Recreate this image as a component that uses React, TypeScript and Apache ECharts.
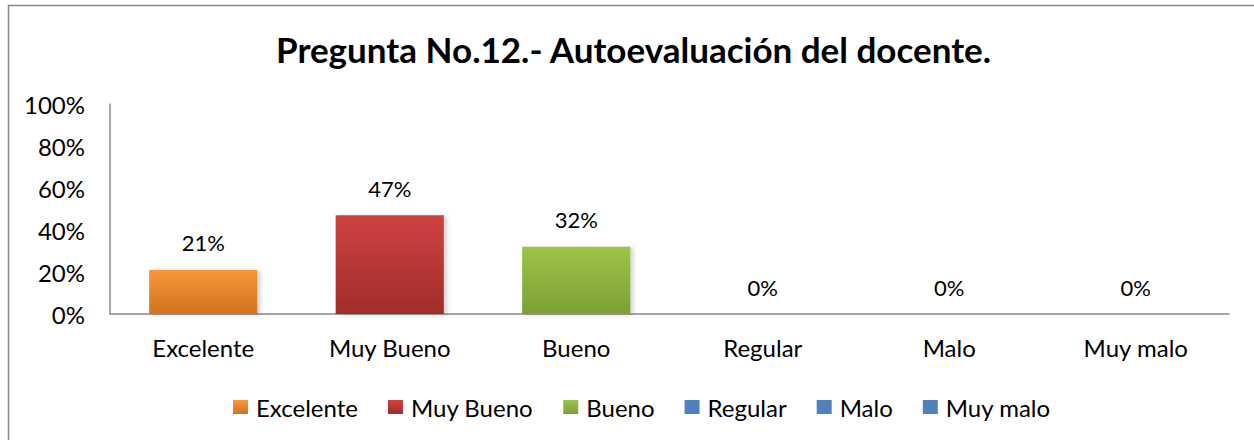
import React, { useEffect, useRef } from "react";
import * as echarts from "echarts";

const categories = ["Excelente", "Muy Bueno", "Bueno", "Regular", "Malo", "Muy malo"];
const values = [21, 47, 32, 0, 0, 0];
const yTicks = [0, 20, 40, 60, 80, 100];
const titleText = "Pregunta No.12.- Autoevaluación del docente.";

const FONT = "Lato";

const grad = (top: string, bottom: string) =>
  new echarts.graphic.LinearGradient(0, 0, 0, 1, [
    { offset: 0, color: top },
    { offset: 1, color: bottom },
  ]);

const colorsTop = ["#F9973A", "#CF4240", "#9DC446", "#4F81BD", "#4F81BD", "#4F81BD"];
const colorsBottom = ["#D2721F", "#A12C2B", "#7C9F37", "#4F81BD", "#4F81BD", "#4F81BD"];

export default function App() {
  const ref = useRef<HTMLDivElement>(null);
  useEffect(() => {
    if (!ref.current) return;
    const chart = echarts.init(ref.current, null, { renderer: "svg" });
    const series = categories.map((name, i) => ({
      name,
      type: "bar",
      stack: "all",
      barWidth: "58%",
      data: categories.map((_, j) => (j === i ? values[i] : null)),
      itemStyle: {
        color: grad(colorsTop[i], colorsBottom[i]),
        shadowColor: "rgba(0,0,0,0.18)",
        shadowBlur: 4,
        shadowOffsetX: 3,
        shadowOffsetY: 1,
      },
      label: {
        show: true,
        position: "top",
        distance: 16,
        formatter: (p: any) => `${p.value}%`,
        color: "#000",
        fontFamily: FONT,
        fontSize: 22,
      },
    }));
    chart.setOption({
      animation: false,
      title: {
        text: titleText,
        left: 271,
        top: 26,
        textStyle: { fontFamily: FONT, fontSize: 35, fontWeight: "bold", color: "#000" },
      },
      legend: {
        top: 390,
        left: 228,
        itemWidth: 15,
        itemHeight: 14,
        itemGap: 30,
        icon: "rect",
        data: categories.map((name, i) => ({
          name,
          itemStyle: { color: grad(colorsTop[i], colorsBottom[i]) },
        })),
        textStyle: { fontFamily: FONT, fontSize: 24, color: "#000", padding: [0, 0, 0, 3] },
      },
      grid: { left: 110, right: 25, top: 104, bottom: 126 },
      xAxis: {
        type: "category",
        data: categories,
        axisLine: { lineStyle: { color: "#888", width: 1.5 } },
        axisTick: { show: false },
        axisLabel: { fontFamily: FONT, fontSize: 24, color: "#000", margin: 21 },
      },
      yAxis: {
        type: "value",
        min: 0,
        max: 100,
        interval: 20,
        axisLine: { show: true, lineStyle: { color: "#888", width: 1.5 } },
        axisTick: { show: false },
        splitLine: { show: false },
        axisLabel: {
          fontFamily: FONT,
          fontSize: 24,
          color: "#000",
          margin: 25,
          formatter: (v: number) => (yTicks.includes(v) ? `${v}%` : ""),
        },
      },
      graphic: [
        {
          type: "rect",
          shape: { x: 8.5, y: 5.5, width: 1300, height: 500 },
          style: { fill: "none", stroke: "#888", lineWidth: 1.5 },
          silent: true,
        },
      ],
      series,
    });
    return () => chart.dispose();
  }, []);
  return (
    <div
      ref={ref}
      style={{ position: "absolute", left: 0, top: 0, width: 1254, height: 440, background: "#fff" }}
    />
  );
}
